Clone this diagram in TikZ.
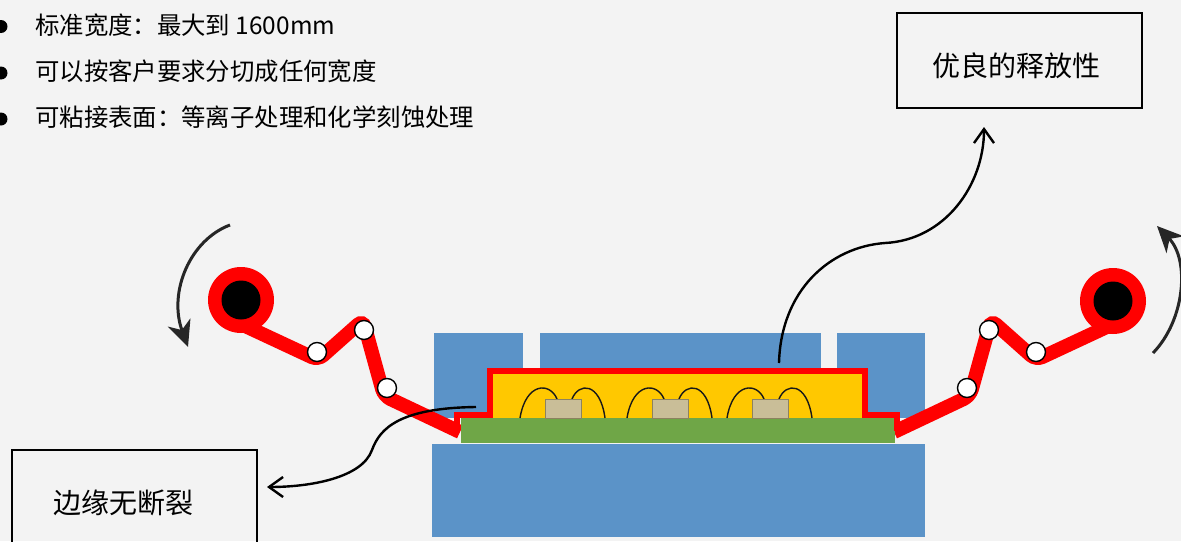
\documentclass[tikz,border=0pt]{standalone}
\usepackage{fontspec}
\setmainfont{Noto Sans CJK SC}
\usetikzlibrary{arrows.meta}
\definecolor{bgcol}{HTML}{F3F3F3}
\definecolor{moldblue}{HTML}{5B93C8}
\definecolor{boardgreen}{HTML}{6FA647}
\definecolor{encap}{HTML}{FFC800}
\definecolor{chipcol}{HTML}{C9BE98}
\definecolor{chipedge}{HTML}{8C8260}
\definecolor{filmred}{HTML}{FF0000}
\begin{document}
\begin{tikzpicture}[x=1pt,y=-1pt,
  mold/.style={fill=moldblue},
  chip/.style={fill=chipcol, draw=chipedge, line width=0.8pt},
  wire/.style={draw=black!90, line width=1.4pt},
  film/.style={draw=filmred, line width=6pt, line join=miter},
  web/.style={draw=filmred, line width=14pt, rounded corners=7pt},
  guide/.style={circle, draw=black, fill=white, line width=1.4pt, minimum size=19pt, inner sep=0pt},
  spool/.style={circle, fill=filmred, minimum size=66pt, inner sep=0pt},
  hub/.style={circle, fill=black, minimum size=39pt, inner sep=0pt},
  spin/.style={draw=black!85, line width=3pt, -{Stealth[length=26pt,width=24pt,inset=8pt]}},
  callarrow/.style={draw=black, line width=2.4pt, -{Straight Barb[length=14pt,width=20pt]}},
  callbox/.style={draw=black, line width=2pt, minimum width=245pt, minimum height=95pt, inner sep=0pt},
  calltext/.style={font=\fontsize{28pt}{32pt}\selectfont, inner sep=0pt},
  bullettext/.style={font=\fontsize{24.4pt}{28pt}\selectfont, anchor=base west, inner sep=0pt},
  bulletdot/.style={circle, fill=black, minimum size=13pt, inner sep=0pt},
]
\useasboundingbox (0,0) rectangle (1181,541);
\clip (0,0) rectangle (1181,541);
\fill[bgcol] (0,0) rectangle (1181,541);

% bullet list
\node[bulletdot] (b1) at (1,26.5) {};
\node[bulletdot] (b2) at (1,73) {};
\node[bulletdot] (b3) at (1,119) {};
\node[bullettext] (t1) at (35,34) {标准宽度：最大到 1600mm};
\node[bullettext] (t2) at (35,80) {可以按客户要求分切成任何宽度};
\node[bullettext] (t3) at (35,126) {可粘接表面：等离子处理和化学刻蚀处理};

% mould halves
\fill[mold] (432,444) rectangle (925,537);
\fill[mold] (434,333) rectangle (523,418);
\fill[mold] (540,333) rectangle (821,368);
\fill[mold] (837,333) rectangle (925,418);

% release film web running between the spools
\draw[web] (243,325) -- (318,360) -- (363,320) -- (384,396) -- (460,432);
\draw[web] (1111,325) -- (1036,360) -- (991,320) -- (970,396) -- (894,432);

% board, encapsulant, dies and bond wires
\fill[boardgreen] (461,418) rectangle (895,443);
\fill[encap] (490,371) rectangle (865,418);
\foreach \c in {545,652,752} {
  \draw[wire] ({\c-25},418) .. controls ({\c-19},382) and ({\c+5},382) .. ({\c+12},399);
  \draw[wire] ({\c+27},399) .. controls ({\c+34},382) and ({\c+55},382) .. ({\c+60},418);
  \draw[chip] (\c,399) rectangle ({\c+36},418);
}

% film conforming over the package
\draw[film] (457,431) -- (457,415) -- (490,415) -- (490,371) -- (865,371) -- (865,415) -- (897,415) -- (897,431);

% guide rollers
\node[guide] (gL1) at (317,352) {};
\node[guide] (gL2) at (364,330) {};
\node[guide] (gL3) at (387,388) {};
\node[guide] (gR1) at (1036,352) {};
\node[guide] (gR2) at (989,330) {};
\node[guide] (gR3) at (967,388) {};

% supply and take-up spools
\node[spool] (spoolL) at (241,300) {};
\node[hub] (hubL) at (spoolL) {};
\node[spool] (spoolR) at (1113,301) {};
\node[hub] (hubR) at (spoolR) {};

% rotation arrows
\coordinate (spinLa) at (230,225);
\coordinate (spinLb) at (188,347);
\coordinate (spinRa) at (1153,353);
\coordinate (spinRb) at (1157,226);
\draw[spin] (spinLa) .. controls (190,240) and (168,292) .. (spinLb);
\draw[spin] (spinRa) .. controls (1185,320) and (1190,260) .. (spinRb);

% callouts
\node[callbox] (release) at (1019.5,60.5) {};
\node[calltext] (releasetext) at (1016,66) {优良的释放性};
\node[callbox] (edge) at (134.5,497.5) {};
\node[calltext] (edgetext) at (123,503) {边缘无断裂};

\coordinate (relsrc) at (779,363);
\coordinate (reltip) at (984,127);
\coordinate (edgesrc) at (476,407);
\coordinate (edgetip) at (267,487);
\draw[callarrow] (relsrc) .. controls (781,290) and (830,247) .. (885,243)
  .. controls (945,240) and (984,185) .. (reltip);
\draw[callarrow] (edgesrc) .. controls (400,408) and (380,428) .. (372,450)
  .. controls (362,478) and (310,487) .. (edgetip);
\end{tikzpicture}
\end{document}
